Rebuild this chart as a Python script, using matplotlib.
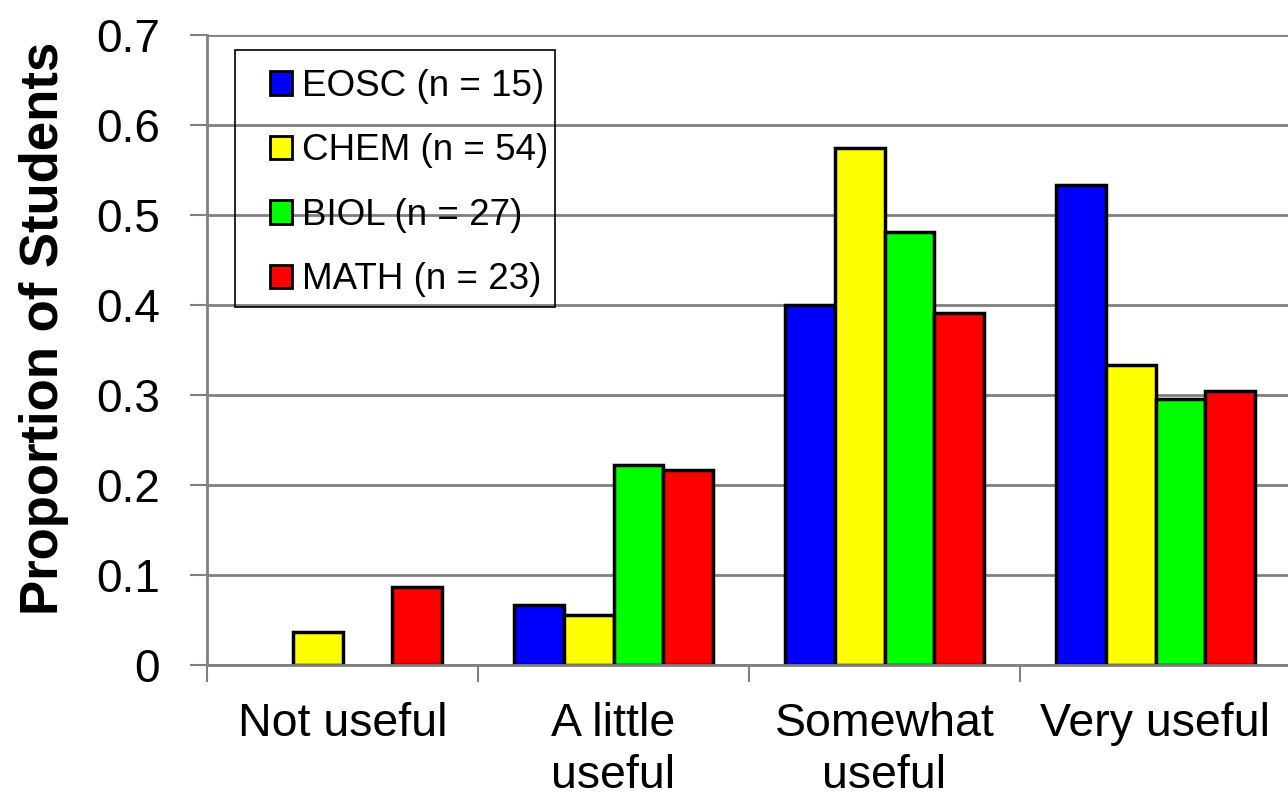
import matplotlib
matplotlib.use("Agg")
import matplotlib.pyplot as plt
from matplotlib.patches import Rectangle
import numpy as np

categories = ["Not useful", "A little\nuseful", "Somewhat\nuseful", "Very useful"]
groups = ["EOSC (n = 15)", "CHEM (n = 54)", "BIOL (n = 27)", "MATH (n = 23)"]
colors = ["#0000FF", "#FFFF00", "#00FF00", "#FF0000"]

eosc = [0.0, 0.067, 0.400, 0.533]
chem = [0.037, 0.056, 0.574, 0.333]
biol = [0.0, 0.222, 0.481, 0.296]
math_ = [0.087, 0.217, 0.391, 0.304]
series = [eosc, chem, biol, math_]

plt.rcParams["font.family"] = ["Liberation Sans", "DejaVu Sans"]

W, H = 1288, 796
fig = plt.figure(figsize=(W / 100, H / 100), dpi=100)
ax = fig.add_axes([207/W, 1-665/H, 1084/W, 630/H])

grid_c = "#808080"
width = 0.183
x = np.arange(len(categories)) + 0.5
for i, (vals, c, lab) in enumerate(zip(series, colors, groups)):
    bars = ax.bar(x + (i - 1.5) * width, vals, width, color=c, edgecolor="black",
                  linewidth=2.5, label=lab, zorder=3)
    for b, v in zip(bars, vals):
        if v == 0:
            b.set_linewidth(0)   # no outline for empty bars

ax.set_xlim(0, 4)
ax.set_ylim(0, 0.7)
ax.set_yticks(np.arange(0, 0.71, 0.1))
ax.set_yticklabels(["0"] + [f"{v:.1f}" for v in np.arange(0.1, 0.71, 0.1)])
ax.yaxis.grid(True, color=grid_c, linewidth=2, zorder=0)
ax.set_axisbelow(True)

# category boundaries get the tick marks, centres get the labels
ax.set_xticks([0, 1, 2, 3, 4])
ax.set_xticklabels([])
ax.set_xticks(x, minor=True)
ax.set_xticklabels(categories, minor=True, fontsize=33.5, linespacing=1.22, va="top")
ax.tick_params(axis="x", which="major", length=12, width=1.5, color=grid_c)
ax.tick_params(axis="x", which="minor", length=0, pad=27)
ax.tick_params(axis="y", length=12, width=1.5, color=grid_c, labelsize=33, pad=22)

for s in ["top", "right"]:
    ax.spines[s].set_visible(False)
for s in ["left", "bottom"]:
    ax.spines[s].set_color(grid_c)
    ax.spines[s].set_linewidth(2)
ax.spines["bottom"].set_zorder(4)

ax.set_ylabel("Proportion of Students", fontsize=38, fontweight="bold")
ax.yaxis.set_label_coords((69 - 207) / 1084, (665 - 328) / 630)

leg = ax.legend(loc="upper left", bbox_to_anchor=(270/W, 1-69/H),
                bbox_transform=fig.transFigure, fontsize=26.5, frameon=False,
                handlelength=0.6, handleheight=0.6, handletextpad=0.27,
                labelspacing=0.8, borderpad=0, borderaxespad=0)
for h in leg.legend_handles:
    h.set_linewidth(2)
fig.patches.append(Rectangle((235/W, 1-307/H), 320/W, 257/H, transform=fig.transFigure,
                             fill=False, edgecolor="black", linewidth=1.2, zorder=5))

fig.savefig("out.png", dpi=100)
